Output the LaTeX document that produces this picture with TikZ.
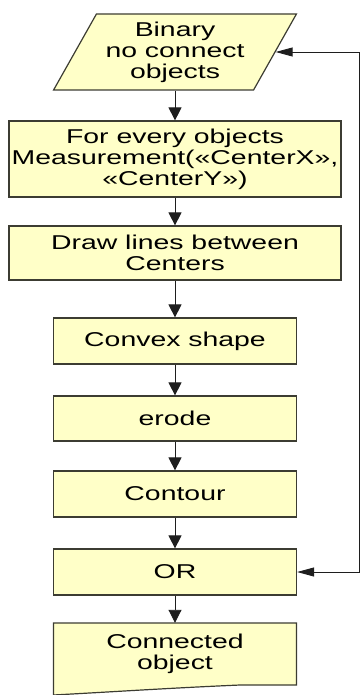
\documentclass[tikz,border=0pt]{standalone}
\usepackage{fontspec}
\setmainfont[FakeStretch=1.42]{Liberation Sans}
\usetikzlibrary{shapes.geometric,arrows.meta}
\definecolor{boxfill}{RGB}{255,255,200}
\definecolor{boxline}{RGB}{60,60,50}
\definecolor{conn}{RGB}{30,30,30}
\begin{document}
\begin{tikzpicture}[x=1pt,y=-1pt,
  every node/.style={font=\fontsize{20}{21}\selectfont, align=center, inner sep=0pt},
  boxstyle/.style={draw=boxline, fill=boxfill, line width=1.2pt},
  stepbox/.style={boxstyle, rectangle, minimum width=#1},
  vflow/.style={draw=conn, line width=0.9pt, -{Triangle[length=13pt,width=13pt]}},
  hflow/.style={draw=conn, line width=0.9pt, {Triangle[length=17pt,width=9pt]}-{Triangle[length=17pt,width=9pt]}}]
\useasboundingbox (0,0) rectangle (361,695);

\node[boxstyle, trapezium, trapezium left angle=58, trapezium right angle=122,
      trapezium stretches=true, minimum width=243pt, minimum height=76pt] (in) at (175,52)
      {Binary\\no connect\\objects};
\node[stepbox=332pt, minimum height=76pt] (b2) at (175,159)
      {For every objects\\Measurement(«CenterX»,\\«CenterY»)};
\node[stepbox=332pt, minimum height=54pt] (b3) at (175,253) {Draw lines between\\Centers};
\node[stepbox=243pt, minimum height=46pt] (b4) at (175,341) {Convex shape};
\node[stepbox=243pt, minimum height=45pt] (b5) at (175,418.5) {erode};
\node[stepbox=243pt, minimum height=46pt] (b6) at (175,494) {Contour};
\node[stepbox=243pt, minimum height=46pt] (b7) at (175,572) {OR};

\draw[boxstyle] (53.5,623) -- (296.5,623) -- (296.5,685) -- (240,685)
  .. controls (170,688) and (110,692) .. (53.5,695) -- cycle;
\node[rectangle, minimum width=243pt, minimum height=62pt] (out) at (175,654) {Connected\\object};

\coordinate (rx) at (359.6,0);

\draw[vflow] (in.south) -- (in.south |- b2.north);
\draw[vflow] (b2.south) -- (b3.north);
\draw[vflow] (b3.south) -- (b4.north);
\draw[vflow] (b4.south) -- (b5.north);
\draw[vflow] (b5.south) -- (b6.north);
\draw[vflow] (b6.south) -- (b7.north);
\draw[vflow] (b7.south) -- (out.north);
\draw[hflow] (b7.east) -- (b7.east -| rx) -- (rx |- in.right side) -- (in.right side);
\end{tikzpicture}
\end{document}
